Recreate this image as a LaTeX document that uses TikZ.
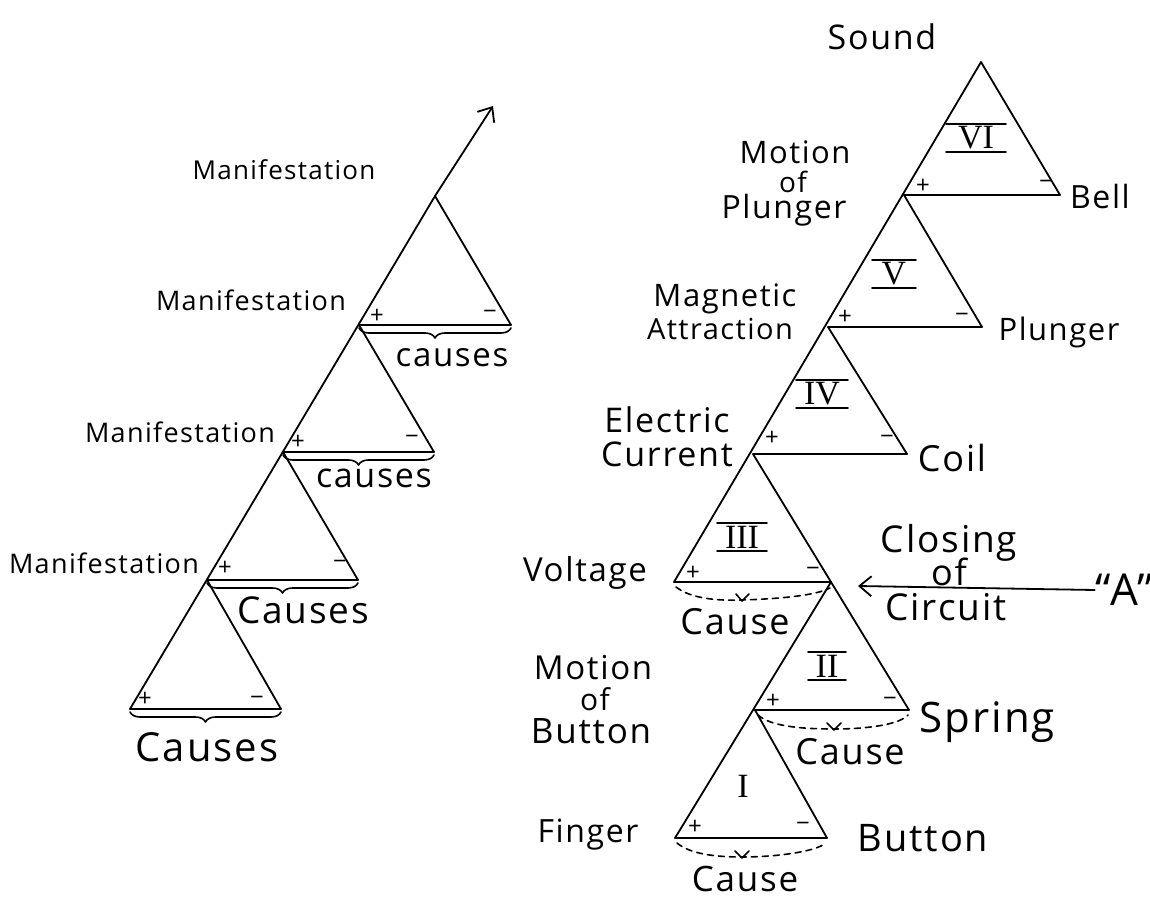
\documentclass[tikz,border=0pt]{standalone}
\usepackage{fontspec}
\setmainfont{Open Sans}[LetterSpace=5]
\newfontfamily\numfont{Liberation Serif}
\usetikzlibrary{decorations.pathreplacing,arrows.meta}
\begin{document}
\begin{tikzpicture}[x=0.5pt,y=-0.5pt,line width=0.9pt,line cap=round,line join=round,
  txt/.style={inner sep=0pt, font=\fontsize{#1}{#1}\selectfont},
  sgn/.style={inner sep=0pt, font=\fontsize{12}{12}\selectfont},
  cbrace/.style={decorate, decoration={brace, mirror, amplitude=5pt, raise=1.5pt}, line width=0.8pt},
  dcurve/.style={dash pattern=on 3pt off 2.5pt, line width=0.8pt},
  numb/.style={inner xsep=0pt, inner ysep=1pt, font=\numfont\fontsize{17}{17}\selectfont, minimum width=#1},
  bar/.style={line width=0.9pt},
  tip/.style={-{Straight Barb[length=6pt,width=10pt]}}
]
\useasboundingbox (0,0) rectangle (1150,898);
\fill[white] (0,0) rectangle (1150,898);

% ---------------- left chain ----------------
\coordinate (LA4) at (435,196);
\coordinate (LA3) at (359,325);
\coordinate (LA2) at (283,452);
\coordinate (LA1) at (207,580);
\coordinate (LB0) at (130,709);
\coordinate (LR4) at (511,325);
\coordinate (LR3) at (434,452);
\coordinate (LR2) at (358,580);
\coordinate (LR1) at (281,709);
\coordinate (LTip) at (493,106);

\draw (LB0) -- (LA4);
\draw[tip] (LA4) -- (LTip);
\draw (LA4) -- (LR4) -- (LA3);
\draw (LA3) -- (LR3) -- (LA2);
\draw (LA2) -- (LR2) -- (LA1);
\draw (LA1) -- (LR1) -- (LB0);

\draw[cbrace] (LA3) -- (LR4);
\draw[cbrace] (LA2) -- (LR3);
\draw[cbrace] (LA1) -- (LR2);
\draw[cbrace] (LB0) -- (LR1);

\node[txt=13] (m0) at (284,170) {Manifestation};
\node[txt=13.5] (m1) at (251,300) {Manifestation};
\node[txt=13.5] (m2) at (180,432) {Manifestation};
\node[txt=13.5] (m3) at (104,563) {Manifestation};

\node[txt=16.5] (c4) at (452,358) {causes};
\node[txt=17] (c3) at (374,478) {causes};
\node[txt=18.5] (c2) at (303,610) {Causes};
\node[txt=20] (c1) at (207,747) {Causes};

\node[sgn] (lp4) at (377,316) {+};
\node[sgn] (lm4) at (490,315) {−};
\node[sgn] (lp3) at (298,442) {+};
\node[sgn] (lm3) at (412,440) {−};
\node[sgn] (lp2) at (225,568) {+};
\node[sgn] (lm2) at (340,565) {−};
\node[sgn] (lp1) at (145,699) {+};
\node[sgn] (lm1) at (257,701) {−};

% ---------------- right chain ----------------
\coordinate (RA6) at (981,62);
\coordinate (RA5) at (904,195);
\coordinate (RA4) at (828,327);
\coordinate (RA3) at (753,454);
\coordinate (RB3) at (674,582);
\coordinate (RR6) at (1060,195);
\coordinate (RR5) at (982,327);
\coordinate (RR4) at (907,454);
\coordinate (RR3) at (831,582);
\coordinate (RA1) at (755,710);
\coordinate (RR2) at (909,710);
\coordinate (RB1) at (675,838);
\coordinate (RR1) at (827,838);
\coordinate (CTip) at (858,586);

\draw (RB3) -- (RA6);
\draw (RA6) -- (RR6) -- (RA5);
\draw (RA5) -- (RR5) -- (RA4);
\draw (RA4) -- (RR4) -- (RA3);
\draw (RA3) -- (RR2) -- (RA1);
\draw (RB3) -- (RR3);
\draw (RR3) -- (RB1) -- (RR1) -- (RA1);

% dashed "cause" curves
\draw[dcurve] (676,587) .. controls (690,598) and (715,601) .. (742,600) .. controls (775,599) and (815,596) .. (830,588);
\draw[line width=0.8pt] (736,594) -- (742,601) -- (749,594);
\draw[dcurve] (758,715) .. controls (770,726) and (800,729) .. (834,729) .. controls (870,729) and (900,724) .. (908,715);
\draw[line width=0.8pt] (827,723) -- (834,730) -- (841,723);
\draw[dcurve] (677,843) .. controls (690,854) and (715,857) .. (742,857) .. controls (775,857) and (815,852) .. (826,843);
\draw[line width=0.8pt] (735,851) -- (742,858) -- (749,851);

% roman numerals
\node[numb=29pt] (n6) at (976,138) {VI};
\node[numb=21pt] (n5) at (894,274) {V};
\node[numb=25pt] (n4) at (822,394) {IV};
\node[numb=24pt] (n3) at (742,537) {III};
\node[numb=18pt] (n2) at (827,666) {II};
\node[numb=10pt] (n1) at (743,786) {I};
\foreach \n in {n6,n5,n4,n3,n2}{
  \draw[bar] (\n.north west) -- (\n.north east);
  \draw[bar] (\n.south west) -- (\n.south east);
}

% signs
\node[sgn] (rp6) at (923,186) {+};
\node[sgn] (rm6) at (1046,185) {−};
\node[sgn] (rp5) at (845,317) {+};
\node[sgn] (rm5) at (962,318) {−};
\node[sgn] (rp4) at (772,438) {+};
\node[sgn] (rm4) at (887,440) {−};
\node[sgn] (rp3) at (693,573) {+};
\node[sgn] (rm3) at (813,572) {−};
\node[sgn] (rp2) at (773,701) {+};
\node[sgn] (rm2) at (890,702) {−};
\node[sgn] (rp1) at (695,827) {+};
\node[sgn] (rm1) at (803,827) {−};

% labels
\node[txt=17] (snd) at (882,37) {Sound};
\node[txt=16] (bell) at (1100,197) {Bell};
\node[txt=15.5] (mp1) at (795,152) {Motion};
\node[txt=14] (mp2) at (793,182) {of};
\node[txt=16] (mp3) at (784,210) {Plunger};
\node[txt=15.5] (ma1) at (725,299) {Magnetic};
\node[txt=14.5] (ma2) at (720,329) {Attraction};
\node[txt=15.5] (plg) at (1059,332) {Plunger};
\node[txt=17] (ec1) at (667,420) {Electric};
\node[txt=17] (ec2) at (667,454) {Current};
\node[txt=18] (coil) at (952,458) {Coil};
\node[txt=16.5] (volt) at (585,573) {Voltage};
\node[txt=18.5] (cl1) at (949,543) {Closing};
\node[txt=18] (cl2) at (949,572) {of};
\node[txt=18.5] (cl3) at (946,607) {Circuit};
\node[txt=22] (Aq) at (1124,590) {“A”};
\draw[tip] (Aq.west) -- (CTip);
\node[txt=16.5] (mb1) at (593,668) {Motion};
\node[txt=15] (mb2) at (595,699) {of};
\node[txt=17.5] (mb3) at (591,731) {Button};
\node[txt=21] (spr) at (987,722) {Spring};
\node[txt=16] (fng) at (588,835) {Finger};
\node[txt=19] (btn) at (923,838) {Button};
\node[txt=18] (ca3) at (735,622) {Cause};
\node[txt=18] (ca2) at (850,752) {Cause};
\node[txt=17.5] (ca1) at (745,879) {Cause};
\end{tikzpicture}
\end{document}
